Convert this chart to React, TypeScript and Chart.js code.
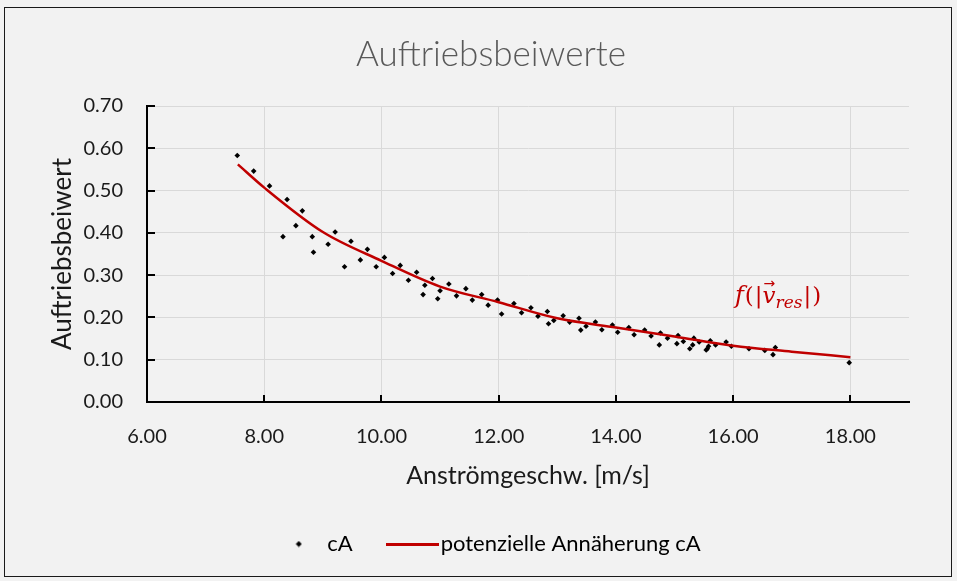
import React, { useEffect, useRef } from "react";
import { Chart, registerables } from "chart.js";

Chart.register(...registerables);

// ---------- texts ----------
const chartTitle = "Auftriebsbeiwerte";
const xAxisTitle = "Anströmgeschw. [m/s]";
const yAxisTitle = "Auftriebsbeiwert";
const seriesLabel = "cA";
const trendLabel = "potenzielle Annäherung cA";

// ---------- measured points (speed [m/s], lift coefficient) ----------
const speed = [
  7.54, 7.82, 8.09, 8.32, 8.39, 8.54, 8.65, 8.82, 8.84, 9.09,
  9.21, 9.37, 9.48, 9.64, 9.76, 9.91, 10.05, 10.19, 10.32, 10.46,
  10.6, 10.71, 10.74, 10.87, 10.96, 11.0, 11.15, 11.28, 11.44, 11.55,
  11.71, 11.82, 11.98, 12.05, 12.26, 12.39, 12.55, 12.67, 12.83, 12.85,
  12.94, 13.1, 13.21, 13.37, 13.4, 13.49, 13.65, 13.76, 13.94, 14.03,
  14.22, 14.31, 14.49, 14.6, 14.74, 14.76, 14.88, 15.04, 15.06, 15.15,
  15.26, 15.31, 15.33, 15.42, 15.54, 15.56, 15.58, 15.61, 15.7, 15.88,
  15.97, 16.27, 16.54, 16.68, 16.72, 17.98,
];
const liftCoefficient = [
  0.583, 0.546, 0.511, 0.391, 0.479, 0.417, 0.452, 0.391, 0.354, 0.373,
  0.402, 0.32, 0.38, 0.336, 0.361, 0.32, 0.342, 0.304, 0.323, 0.288,
  0.307, 0.254, 0.276, 0.292, 0.244, 0.263, 0.279, 0.251, 0.268, 0.241,
  0.254, 0.229, 0.241, 0.208, 0.233, 0.211, 0.223, 0.203, 0.214, 0.185,
  0.193, 0.204, 0.189, 0.198, 0.17, 0.179, 0.189, 0.171, 0.182, 0.165,
  0.176, 0.159, 0.17, 0.156, 0.135, 0.163, 0.151, 0.138, 0.157, 0.143,
  0.126, 0.135, 0.151, 0.142, 0.123, 0.126, 0.132, 0.145, 0.135, 0.142,
  0.132, 0.126, 0.122, 0.112, 0.129, 0.093,
];

// ---------- trend line ----------
const trendSpeed = [7.55, 8, 9, 10, 11, 12, 13, 14, 15, 16, 17, 18];
const trendLift = [0.562, 0.507, 0.402, 0.334, 0.273, 0.236, 0.198, 0.176, 0.155, 0.133, 0.119, 0.106];

// ---------- axes ----------
const xMin = 6;
const xMax = 19;
const xStep = 2;
const yMin = 0;
const yMax = 0.7;
const yStep = 0.1;

// annotation anchor (data coordinates)
const annotationAt = { x: 16.03, y: 0.234 };

const FONT = "Lato, 'Open Sans', sans-serif";
const RED = "#c00000";
const LEGEND_FONT = 22;
const LEGEND_BOX = 57 - LEGEND_FONT;

function makeDiamond(): HTMLCanvasElement {
  const c = document.createElement("canvas");
  c.width = 7;
  c.height = 7;
  const g = c.getContext("2d")!;
  g.fillStyle = "#000";
  g.beginPath();
  g.moveTo(3.5, 0.5);
  g.lineTo(6.5, 3.5);
  g.lineTo(3.5, 6.5);
  g.lineTo(0.5, 3.5);
  g.closePath();
  g.fill();
  return c;
}

function makeLineSymbol(): HTMLCanvasElement {
  const c = document.createElement("canvas");
  c.width = 53;
  c.height = 3;
  const g = c.getContext("2d")!;
  g.fillStyle = RED;
  g.fillRect(0, 0, 53, 3);
  return c;
}

const insideTicksPlugin = {
  id: "insideTicks",
  afterDatasetsDraw(chart: any) {
    const { ctx, chartArea } = chart;
    const xs = chart.scales.x;
    const ys = chart.scales.y;
    ctx.save();
    ctx.strokeStyle = "#000";
    ctx.lineWidth = 2;
    xs.ticks.forEach((t: any) => {
      const px = Math.round(xs.getPixelForValue(t.value));
      ctx.beginPath();
      ctx.moveTo(px, chartArea.bottom);
      ctx.lineTo(px, chartArea.bottom - 7);
      ctx.stroke();
    });
    ys.ticks.forEach((t: any) => {
      const py = Math.round(ys.getPixelForValue(t.value));
      ctx.beginPath();
      ctx.moveTo(chartArea.left, py);
      ctx.lineTo(chartArea.left + 8, py);
      ctx.stroke();
    });
    ctx.restore();
  },
};

const annotationPlugin = {
  id: "fAnnotation",
  afterDatasetsDraw(chart: any) {
    const { ctx } = chart;
    const x0 = chart.scales.x.getPixelForValue(annotationAt.x);
    const y0 = chart.scales.y.getPixelForValue(annotationAt.y);
    ctx.save();
    ctx.fillStyle = RED;
    ctx.textBaseline = "alphabetic";
    ctx.textAlign = "left";
    const serif = "'DejaVu Serif', 'Liberation Serif', serif";
    let x = x0;
    const put = (t: string, font: string, dy = 0, gap = 0) => {
      ctx.font = font;
      ctx.fillText(t, x, y0 + dy);
      x += ctx.measureText(t).width + gap;
    };
    put("f", `italic 24px ${serif}`, 0, 1);
    put("(", `23px ${serif}`, 0, 1);
    put("|", `23px ${serif}`, 0, 0);
    const vx = x;
    put("v", `italic 23px ${serif}`);
    ctx.font = `14px 'DejaVu Sans', sans-serif`;
    ctx.fillText("→", vx + 1, y0 - 15);
    put("res", `italic 17px ${serif}`, 5, 1);
    put("|", `23px ${serif}`, 0, 1);
    put(")", `23px ${serif}`);
    ctx.restore();
  },
};

export default function App() {
  const canvasRef = useRef<HTMLCanvasElement | null>(null);

  useEffect(() => {
    const canvas = canvasRef.current;
    if (!canvas) return;
    const diamond = makeDiamond();
    const lineSymbol = makeLineSymbol();

    const scatterData = speed.map((v, i) => ({ x: v, y: liftCoefficient[i] }));
    const trendData = trendSpeed.map((v, i) => ({ x: v, y: trendLift[i] }));

    const chart = new Chart(canvas, {
      type: "scatter",
      data: {
        datasets: [
          {
            label: seriesLabel,
            data: scatterData,
            pointStyle: "rectRot",
            pointRadius: 2.8,
            backgroundColor: "#000",
            borderColor: "#000",
            borderWidth: 0,
            order: 1,
          },
          {
            type: "line",
            label: trendLabel,
            data: trendData,
            showLine: true,
            borderColor: RED,
            borderWidth: 2.5,
            pointRadius: 0,
            cubicInterpolationMode: "monotone",
            fill: false,
            order: 0,
          } as any,
        ],
      },
      options: {
        responsive: false,
        animation: false,
        events: [],
        layout: { padding: { left: 73, right: 48, top: 0, bottom: 16 } },
        plugins: {
          tooltip: { enabled: false },
          title: {
            display: true,
            text: chartTitle,
            color: "#595959",
            font: { family: FONT, size: 35, weight: 300 },
            padding: { top: 34, bottom: 30 },
          },
          legend: {
            display: true,
            position: "bottom",
            labels: {
              usePointStyle: true,
              pointStyleWidth: LEGEND_BOX,
              boxHeight: 18,
              padding: 42,
              color: "#595959",
              font: { family: FONT, size: LEGEND_FONT },
              generateLabels: () => [
                {
                  text: seriesLabel,
                  pointStyle: diamond as any,
                  fillStyle: "#000",
                  strokeStyle: "#000",
                  lineWidth: 0,
                  hidden: false,
                  datasetIndex: 0,
                },
                {
                  text: trendLabel,
                  pointStyle: lineSymbol as any,
                  fillStyle: RED,
                  strokeStyle: RED,
                  lineWidth: 0,
                  hidden: false,
                  datasetIndex: 1,
                },
              ],
            },
          },
        },
        scales: {
          x: {
            type: "linear",
            min: xMin,
            max: xMax,
            afterFit: (s: any) => {
              s.height = 89;
            },
            ticks: {
              stepSize: xStep,
              includeBounds: false,
              padding: 23,
              color: "#1a1a1a",
              font: { family: FONT, size: 20 },
              callback: (v: any) => Number(v).toFixed(2),
            },
            grid: { color: "#d9d9d9", lineWidth: 1, drawTicks: false },
            border: { display: true, color: "#000", width: 2 },
            title: {
              display: true,
              text: xAxisTitle,
              color: "#1a1a1a",
              font: { family: FONT, size: 25 },
              padding: { top: 0, bottom: 0 },
            },
          },
          y: {
            type: "linear",
            min: yMin,
            max: yMax,
            afterFit: (s: any) => {
              s.width = 74;
            },
            ticks: {
              stepSize: yStep,
              padding: 24,
              color: "#1a1a1a",
              font: { family: FONT, size: 20 },
              callback: (v: any) => Number(v).toFixed(2),
            },
            grid: { color: "#d9d9d9", lineWidth: 1, drawTicks: false },
            border: { display: true, color: "#000", width: 2 },
            title: {
              display: true,
              text: yAxisTitle,
              color: "#1a1a1a",
              font: { family: FONT, size: 26 },
              padding: { top: -25.6, bottom: 0 },
            },
          },
        },
      },
      plugins: [insideTicksPlugin, annotationPlugin],
    } as any);

    return () => chart.destroy();
  }, []);

  return (
    <div
      style={{
        position: "fixed",
        left: 0,
        top: 0,
        width: 957,
        height: 581,
        background: "#f2f2f2",
      }}
    >
      <canvas ref={canvasRef} width={957} height={581} style={{ display: "block" }} />
      <div
        style={{
          position: "absolute",
          left: 4,
          top: 7,
          width: 948,
          height: 570,
          boxSizing: "border-box",
          border: "1px solid #1a1a1a",
          pointerEvents: "none",
        }}
      />
    </div>
  );
}
